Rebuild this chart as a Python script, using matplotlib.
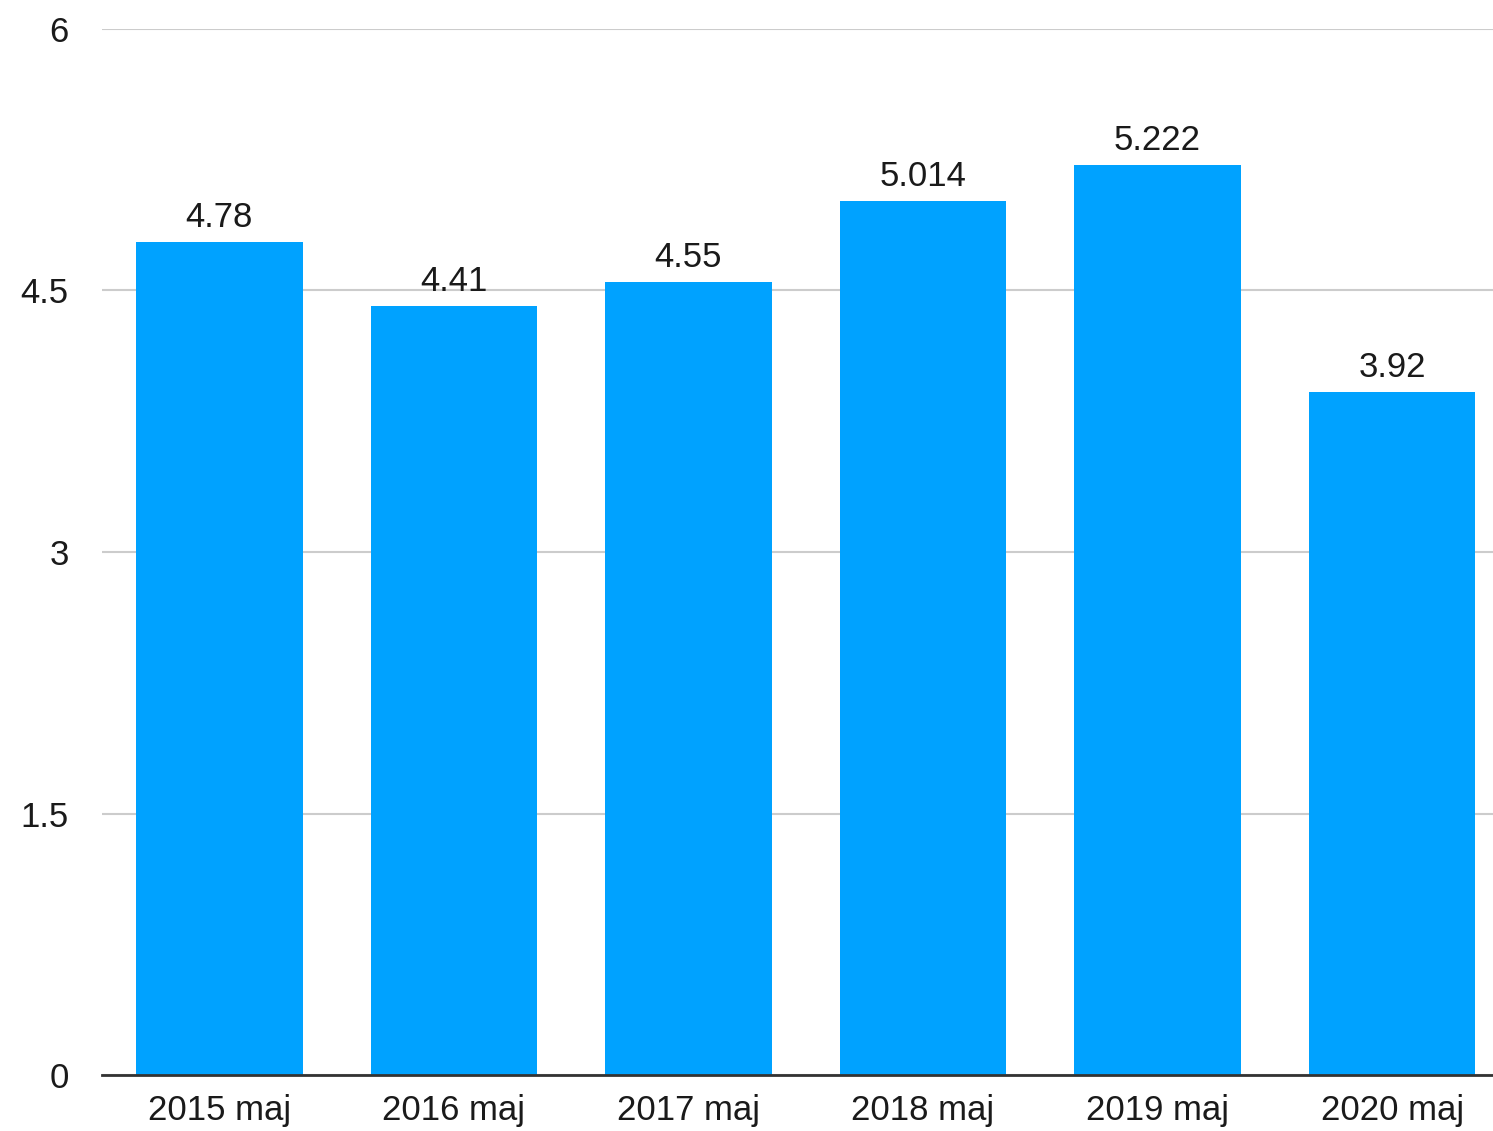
#!/usr/bin/env python3
"""Bar chart: value per year (May)."""

import matplotlib
matplotlib.use("Agg")
import matplotlib.pyplot as plt

CATEGORIES = ["2015 maj", "2016 maj", "2017 maj", "2018 maj", "2019 maj", "2020 maj"]
VALUES = [4.78, 4.41, 4.55, 5.014, 5.222, 3.92]
VALUE_LABELS = ["4.78", "4.41", "4.55", "5.014", "5.222", "3.92"]
Y_TICKS = [0, 1.5, 3, 4.5, 6]
Y_TICK_LABELS = ["0", "1.5", "3", "4.5", "6"]

BAR_COLOR = "#00A2FF"

plt.rcParams["font.family"] = ["Liberation Sans", "DejaVu Sans"]

fig = plt.figure(figsize=(14.93, 11.31), dpi=100)
ax = fig.add_axes([0.0683, 0.0495, 0.9317, 0.9249])

x = list(range(len(CATEGORIES)))
ax.bar(x, VALUES, width=0.71, color=BAR_COLOR, zorder=3)

for xi, val, lab in zip(x, VALUES, VALUE_LABELS):
    ax.text(xi, val + 0.045, lab, ha="center", va="bottom", fontsize=25, color="#1a1a1a")

ax.set_xlim(-0.5, 5.43)
ax.set_ylim(0, 6)
ax.set_yticks(Y_TICKS)
ax.set_yticklabels(Y_TICK_LABELS, fontsize=25, color="#1a1a1a")
ax.set_xticks(x)
ax.set_xticklabels(CATEGORIES, fontsize=25, color="#1a1a1a")

ax.grid(axis="y", color="#cccccc", linewidth=1.5, zorder=0)
for side in ["top", "right", "left"]:
    ax.spines[side].set_visible(False)
ax.spines["bottom"].set_color("#333333")
ax.spines["bottom"].set_linewidth(2)
ax.spines["bottom"].set_zorder(4)
ax.tick_params(axis="both", length=0)
ax.tick_params(axis="y", pad=24)
ax.tick_params(axis="x", pad=14)

fig.savefig("out.png", dpi=100)
